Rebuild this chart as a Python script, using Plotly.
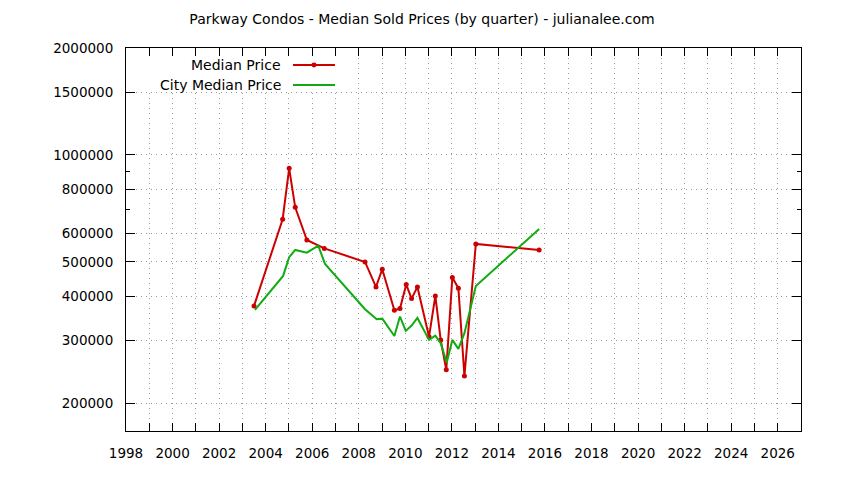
import plotly.graph_objects as go

# quarter positions (decimal years) and prices
years_red = [2003.5, 2004.73, 2005.01, 2005.27, 2005.77, 2006.52, 2008.27, 2008.74,
             2009.01, 2009.53, 2009.77, 2010.04, 2010.27, 2010.52, 2011.02, 2011.29,
             2011.52, 2011.76, 2012.02, 2012.28, 2012.54, 2013.03, 2015.75]
median_price = [375800, 659000, 917000, 712000, 576000, 545600, 499600, 425000,
                476600, 365400, 369200, 431400, 394000, 425000, 307800, 400900,
                301400, 248200, 451400, 421600, 238600, 561600, 540000]

years_city = [2003.54, 2004.75, 2005.01, 2005.27, 2005.77, 2006.26, 2006.55, 2008.27,
              2008.77, 2009.01, 2009.53, 2009.77, 2010.02, 2010.27, 2010.52, 2011.02,
              2011.29, 2011.52, 2011.78, 2012.02, 2012.28, 2012.54, 2013.03, 2015.75]
city_median = [366200, 456400, 515200, 540000, 530600, 555400, 493200, 367800,
               344800, 346000, 309200, 350600, 319600, 330800, 347600, 301400,
               309800, 295200, 260200, 301400, 284400, 314800, 427600, 618800]

y_ticks = [200000, 300000, 400000, 500000, 600000, 800000, 1000000, 1500000, 2000000]
y_minor = [700000, 900000]
x_ticks = list(range(1998, 2027, 2))

red = '#cc0000'
green = '#11aa11'
grid = '#999999'
dots = '1px,4px'
font = "DejaVu Sans"

fig = go.Figure()
fig.add_trace(go.Scatter(x=years_red, y=median_price, mode='lines+markers',
                         name='Median Price',
                         line=dict(color=red, width=2),
                         marker=dict(color=red, size=5)))
fig.add_trace(go.Scatter(x=years_city, y=city_median, mode='lines',
                         name='City Median Price',
                         line=dict(color=green, width=2)))

# the page puts the figure 8px in from the corner, hence the odd margins
fig.update_layout(
    width=844, height=480,
    margin=dict(l=118, r=51, t=40, b=57, autoexpand=False),
    plot_bgcolor='white', paper_bgcolor='white',
    font=dict(family=font, size=14, color='black'),
    showlegend=False,
    title=dict(text='Parkway Condos - Median Sold Prices (by quarter) - julianalee.com',
               x=(422 - 8) / 844, xanchor='center', y=1 - 11 / 480, yanchor='middle',
               font=dict(family=font, size=14, color='black')),
)

fig.update_xaxes(
    range=[1998, 2027], automargin=False,
    tickmode='array', tickvals=x_ticks, ticktext=[str(t) for t in x_ticks],
    ticks='inside', ticklen=8, tickcolor='black', tickwidth=1,
    ticklabelstandoff=10, tickfont=dict(size=13.5),
    showline=True, linecolor='black', linewidth=1, mirror='ticks',
    showgrid=True, gridcolor=grid, griddash=dots, gridwidth=1,
    zeroline=False,
    minor=dict(dtick=1, tick0=1998, ticks='inside', ticklen=8, tickcolor='black',
               showgrid=True, gridcolor=grid, griddash=dots, gridwidth=1),
)
fig.update_yaxes(
    type='log', automargin=False,
    range=[5.2227, 6.30103],
    tickmode='array', tickvals=y_ticks, ticktext=[str(t) for t in y_ticks],
    ticks='inside', ticklen=9, tickcolor='black', tickwidth=1,
    ticklabelstandoff=9, tickfont=dict(size=13.5),
    showline=True, linecolor='black', linewidth=1, mirror='ticks',
    showgrid=True, gridcolor=grid, griddash=dots, gridwidth=1,
    zeroline=False,
    minor=dict(tickmode='array', tickvals=y_minor, ticks='inside', ticklen=4,
               tickcolor='black', showgrid=False),
)

# key box in the upper left, like the original (sample line on the right of the text)
fig.add_shape(type='rect', xref='paper', yref='paper', x0=0.002, x1=0.3215,
              y0=0.8851, y1=0.9765, fillcolor='white', line=dict(width=0), layer='above')
key_rows = [('Median Price', red, 0.9556, True), ('City Median Price', green, 0.9034, False)]
for label, col, yy, dot in key_rows:
    fig.add_annotation(x=0.2326, y=yy, xref='paper', yref='paper', text=label,
                       showarrow=False, xanchor='right', yanchor='middle',
                       font=dict(family=font, size=14, color='black'))
    fig.add_shape(type='line', xref='paper', yref='paper', x0=0.2474, x1=0.3096,
                  y0=yy, y1=yy, line=dict(color=col, width=2), layer='above')
    if dot:
        fig.add_shape(type='circle', xref='paper', yref='paper',
                      x0=0.2785 - 0.0037, x1=0.2785 + 0.0037,
                      y0=yy - 0.0065, y1=yy + 0.0065,
                      fillcolor=col, line=dict(color=col, width=0), layer='above')

fig.write_html("out.html")
